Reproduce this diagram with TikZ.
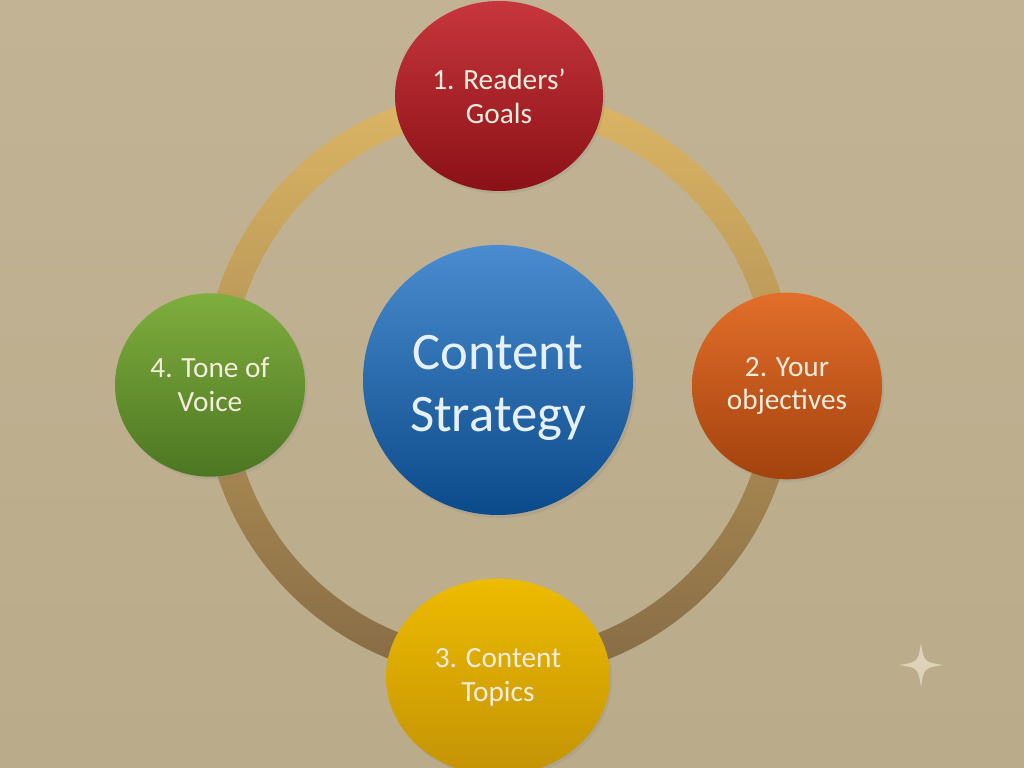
\documentclass[tikz,border=0pt]{standalone}
\usepackage{fontspec}
\setmainfont{Carlito}
\usetikzlibrary{shapes.geometric,shadows}

\definecolor{bgtop}{HTML}{C1B394}
\definecolor{bgbottom}{HTML}{BAAB8A}
\definecolor{ringtop}{HTML}{DDB765}
\definecolor{ringmid}{HTML}{C39F5B}
\definecolor{ringbottom}{HTML}{856A45}
\definecolor{bluetop}{HTML}{4A8CCF}
\definecolor{bluebottom}{HTML}{0B4A8A}
\definecolor{redtop}{HTML}{C7363D}
\definecolor{redbottom}{HTML}{8A1116}
\definecolor{orangetop}{HTML}{E26E2A}
\definecolor{orangebottom}{HTML}{A3420E}
\definecolor{greentop}{HTML}{7FAE3E}
\definecolor{greenbottom}{HTML}{4C7622}
\definecolor{yellowtop}{HTML}{EDBB00}
\definecolor{yellowbottom}{HTML}{C39306}
\definecolor{textcream}{HTML}{F4ECDD}
\definecolor{textblue}{HTML}{E6F0F8}
\definecolor{sparkle}{HTML}{DDD3BA}

\begin{document}
\begin{tikzpicture}[x=0.03cm, y=-0.03cm,
    topic/.style={ellipse, inner sep=0pt, align=center, text=textcream,
      font=\fontsize{25}{29}\selectfont,
      drop shadow={opacity=0.18, shadow xshift=0.06cm, shadow yshift=-0.08cm}},
    hub/.style={circle, inner sep=0pt, minimum size=8.1cm, top color=bluetop, bottom color=bluebottom,
      drop shadow={opacity=0.2, shadow xshift=0.08cm, shadow yshift=-0.1cm}},
    hubtext/.style={align=center, inner sep=0pt, text=textblue, font=\fontsize{45}{53}\selectfont}
  ]

    % Background
    \shade[top color=bgtop, bottom color=bgbottom] (0,0) rectangle (1024,768);
    \useasboundingbox (0,0) rectangle (1024,768);

    % Ring
    \shade[even odd rule, top color=ringtop, middle color=ringmid, bottom color=ringbottom]
      (499,384) circle (296) circle (268);

    % Hub and topics
    \node[hub] (strategy) at (498,380) {};
    \node[hubtext] at ([yshift=-0.24cm]strategy) (strategytext) {Content\\Strategy};
    \node[topic, top color=redtop, bottom color=redbottom,
      minimum width=6.24cm, minimum height=5.7cm] at (499,96) (goals) {1. Readers’\\Goals};
    \node[topic, top color=orangetop, bottom color=orangebottom,
      minimum width=5.7cm, minimum height=5.6cm] at (787,386) (objectives) {2. Your\\objectives};
    \node[topic, top color=yellowtop, bottom color=yellowbottom,
      minimum width=6.72cm, minimum height=5.9cm] at (498,677) (topics) {3. Content\\Topics};
    \node[topic, top color=greentop, bottom color=greenbottom,
      minimum width=5.7cm, minimum height=5.5cm] at (210,385) (voice) {4. Tone of\\Voice};

    % Sparkle
    \fill[sparkle] (921,643) .. controls (924,662) .. (943,665)
      .. controls (924,668) .. (921,687) .. controls (918,668) .. (899,665)
      .. controls (918,662) .. cycle;

  \end{tikzpicture}
\end{document}
